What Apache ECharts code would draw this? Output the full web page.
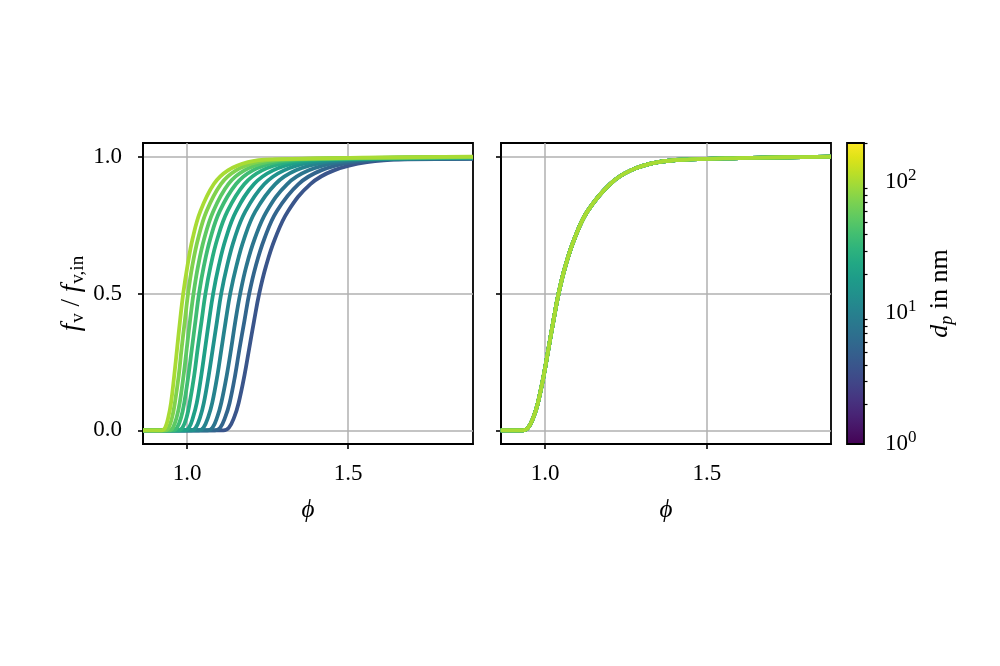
<!DOCTYPE html>
<html>
<head>
<meta charset="utf-8">
<script src="https://cdn.jsdelivr.net/npm/echarts@6/dist/echarts.min.js"></script>
<style>
  html, body { margin: 0; padding: 0; background: #ffffff; }
  #chart { width: 1000px; height: 666px; }
</style>
</head>
<body>
<div id="chart"></div>
<script>
// ---------------- data ----------------
// particle diameters (nm), one per curve; index 0 = largest (leftmost, yellow-green)
const DP = [100, 72.5, 52.5, 38.1, 27.6, 20, 14.5, 10.5, 7.62, 5.52, 4];

// normalised fraction levels at which phi was read for every curve
const F_LEVELS = [0, 0.01, 0.05, 0.1, 0.2, 0.3, 0.4, 0.5, 0.6, 0.7, 0.8, 0.9, 0.95, 0.98, 0.99];

// left panel: phi of each curve at the F_LEVELS above
const LEFT_PHI = [
  [0.921, 0.932, 0.942, 0.950, 0.960, 0.969, 0.978, 0.988, 1.001, 1.017, 1.041, 1.083, 1.127, 1.189, 1.261],
  [0.932, 0.943, 0.954, 0.962, 0.974, 0.983, 0.993, 1.003, 1.016, 1.034, 1.060, 1.105, 1.152, 1.217, 1.294],
  [0.945, 0.956, 0.968, 0.977, 0.989, 0.999, 1.009, 1.020, 1.034, 1.053, 1.081, 1.128, 1.178, 1.248, 1.329],
  [0.957, 0.969, 0.982, 0.991, 1.004, 1.015, 1.026, 1.037, 1.052, 1.072, 1.101, 1.152, 1.204, 1.278, 1.365],
  [0.973, 0.986, 0.999, 1.008, 1.022, 1.033, 1.045, 1.057, 1.073, 1.094, 1.125, 1.178, 1.233, 1.312, 1.403],
  [0.992, 1.006, 1.019, 1.030, 1.044, 1.056, 1.068, 1.081, 1.098, 1.120, 1.152, 1.208, 1.267, 1.349, 1.445],
  [1.013, 1.027, 1.041, 1.052, 1.067, 1.080, 1.093, 1.106, 1.124, 1.147, 1.181, 1.240, 1.301, 1.387, 1.488],
  [1.036, 1.051, 1.066, 1.078, 1.094, 1.107, 1.120, 1.134, 1.153, 1.177, 1.212, 1.274, 1.338, 1.429, 1.534],
  [1.063, 1.079, 1.094, 1.106, 1.123, 1.137, 1.150, 1.165, 1.184, 1.210, 1.247, 1.311, 1.378, 1.473, 1.584],
  [1.086, 1.103, 1.119, 1.132, 1.149, 1.163, 1.178, 1.193, 1.213, 1.240, 1.278, 1.346, 1.416, 1.515, 1.630],
  [1.113, 1.130, 1.147, 1.160, 1.178, 1.193, 1.208, 1.224, 1.245, 1.273, 1.313, 1.383, 1.456, 1.559, 1.679]
];
// left panel: value of each curve at the right edge
const LEFT_END_F = [1.0, 0.999, 0.999, 0.998, 0.998, 0.997, 0.996, 0.995, 0.994, 0.993, 0.992];

// right panel: all curves collapse onto one master curve
const RIGHT_PHI = [0.931, 0.948, 0.965, 0.978, 0.996, 1.011, 1.026, 1.042, 1.063, 1.091, 1.131, 1.201, 1.265, 1.350, 1.450];
const RIGHT_TAIL_PHI = [1.6, 1.75, 1.884];
const RIGHT_TAIL_F = [0.995, 0.998, 1.0];

const PHI_START = 0.863;
const LEFT_PHI_END = 1.888;

// axis ticks
const X_TICKS = [1.0, 1.5];
const Y_TICKS = [0, 0.5, 1.0];
const CB_MINOR = [2, 3, 4, 5, 6, 7, 8, 9, 20, 30, 40, 50, 60, 70, 80, 90, 200];

// ---------------- colormap (viridis) ----------------
const VIRIDIS = ['#440154','#471365','#482475','#463480','#414487','#3b528b','#355f8d','#2f6c8e',
  '#2a788e','#25848e','#21918c','#1e9c89','#22a884','#2fb47c','#44bf70','#5ec962','#7ad151',
  '#9bd93c','#bddf26','#dfe318','#fde725'];
function hex2rgb(h) { return [parseInt(h.substr(1,2),16), parseInt(h.substr(3,2),16), parseInt(h.substr(5,2),16)]; }
function viridis(t) {
  t = Math.max(0, Math.min(1, t));
  const n = VIRIDIS.length - 1;
  const k = Math.min(n - 1, Math.floor(t * n));
  const u = t * n - k;
  const a = hex2rgb(VIRIDIS[k]), b = hex2rgb(VIRIDIS[k + 1]);
  const c = a.map((v, i) => Math.round(v + (b[i] - v) * u));
  return 'rgb(' + c.join(',') + ')';
}
const CB_MIN = 1, CB_MAX = 200;
function dpColor(d) { return viridis(Math.log10(d / CB_MIN) / Math.log10(CB_MAX / CB_MIN)); }

// ---------------- build series ----------------
const FONT = '"Liberation Serif", "DejaVu Serif", serif';
const LW = 3.8;
const series = [];
for (let i = DP.length - 1; i >= 0; i--) {
  const pts = [[PHI_START, 0]];
  LEFT_PHI[i].forEach((p, k) => pts.push([p, F_LEVELS[k]]));
  pts.push([LEFT_PHI_END, LEFT_END_F[i]]);
  series.push({
    type: 'line', xAxisIndex: 0, yAxisIndex: 0, data: pts, showSymbol: false,
    smooth: 0.4, lineStyle: { width: LW, color: dpColor(DP[i]) }, z: 3
  });
}
for (let i = DP.length - 1; i >= 0; i--) {
  const pts = [[PHI_START, 0]];
  RIGHT_PHI.forEach((p, k) => pts.push([p, F_LEVELS[k]]));
  RIGHT_TAIL_PHI.forEach((p, k) => pts.push([p, RIGHT_TAIL_F[k]]));
  series.push({
    type: 'line', xAxisIndex: 1, yAxisIndex: 1, data: pts, showSymbol: false,
    smooth: 0.4, lineStyle: { width: LW, color: dpColor(DP[i]) }, z: 3
  });
}
const gradStops = VIRIDIS.map((c, k) => ({ offset: k / (VIRIDIS.length - 1), color: c }));
series.push({
  type: 'custom', xAxisIndex: 2, yAxisIndex: 2, data: [[0, CB_MIN]], z: 3, silent: true,
  renderItem: function (params, api) {
    const p0 = api.coord([0, CB_MAX]);
    const p1 = api.coord([1, CB_MIN]);
    return {
      type: 'rect',
      shape: { x: p0[0], y: p0[1], width: p1[0] - p0[0], height: p1[1] - p0[1] },
      style: { fill: new echarts.graphic.LinearGradient(0, 1, 0, 0, gradStops), stroke: '#000', lineWidth: 1.8 }
    };
  }
});

// ---------------- axes ----------------
const GRID_COLOR = '#b0b0b0';
const TICK_FS = 23;
function xAx(gridIndex, min, max) {
  return {
    type: 'value', gridIndex, min, max,
    name: 'ϕ', nameLocation: 'middle', nameGap: 54,
    nameTextStyle: { fontFamily: FONT, fontStyle: 'italic', fontSize: 25, color: '#000' },
    axisLine: { show: true, onZero: false, lineStyle: { color: '#000', width: 1.8 } },
    axisTick: { show: true, customValues: X_TICKS, length: 5, lineStyle: { color: '#000', width: 1.6 } },
    axisLabel: { show: true, customValues: X_TICKS, margin: 18, fontFamily: FONT, fontSize: TICK_FS, color: '#000',
      formatter: v => v.toFixed(1) },
    splitLine: { show: true, lineStyle: { color: GRID_COLOR, width: 1.5 } }
  };
}
function yAx(gridIndex, labels) {
  const ax = {
    type: 'value', gridIndex, min: -0.05, max: 1.05,
    axisLine: { show: true, onZero: false, lineStyle: { color: '#000', width: 1.8 } },
    axisTick: { show: true, customValues: Y_TICKS, length: 5, lineStyle: { color: '#000', width: 1.6 } },
    axisLabel: { show: labels, customValues: Y_TICKS, margin: 21, fontFamily: FONT, fontSize: TICK_FS, color: '#000',
      formatter: v => v.toFixed(1) },
    splitLine: { show: true, lineStyle: { color: GRID_COLOR, width: 1.5 } }
  };
  if (labels) {
    ax.name = '{i|f}{s|v}{n| / }{i|f}{s|v,in}';
    ax.nameLocation = 'middle';
    ax.nameRotate = 90;
    ax.nameGap = 55;
    ax.nameTextStyle = {
      fontFamily: FONT, color: '#000',
      rich: {
        i: { fontFamily: FONT, fontStyle: 'italic', fontSize: 27, lineHeight: 32 },
        n: { fontFamily: FONT, fontSize: 27, lineHeight: 32 },
        s: { fontFamily: FONT, fontSize: 19, lineHeight: 20, verticalAlign: 'bottom', padding: [10, 0, 0, 1] }
      }
    };
  }
  return ax;
}

const option = {
  animation: false,
  backgroundColor: '#ffffff',
  grid: [
    { left: 143, top: 143, width: 330, height: 301, show: true, borderColor: '#000', borderWidth: 1.8, backgroundColor: 'transparent', containLabel: false },
    { left: 501, top: 143, width: 330, height: 301, show: true, borderColor: '#000', borderWidth: 1.8, backgroundColor: 'transparent', containLabel: false },
    { left: 847, top: 143, width: 17, height: 301, show: false, containLabel: false }
  ],
  xAxis: [
    xAx(0, 0.863, 1.888),
    xAx(1, 0.864, 1.884),
    { type: 'value', gridIndex: 2, min: 0, max: 1, show: false }
  ],
  yAxis: [
    yAx(0, true),
    yAx(1, false),
    {
      type: 'log', logBase: 10, gridIndex: 2, min: CB_MIN, max: CB_MAX, position: 'right',
      name: '{i|d}{s|p}{n| in nm}', nameLocation: 'middle', nameRotate: 90, nameGap: 60,
      nameTextStyle: {
        fontFamily: FONT, color: '#000',
        rich: {
          i: { fontFamily: FONT, fontStyle: 'italic', fontSize: 26, lineHeight: 32 },
          n: { fontFamily: FONT, fontSize: 26, lineHeight: 32 },
          s: { fontFamily: FONT, fontStyle: 'italic', fontSize: 18, lineHeight: 20, verticalAlign: 'bottom', padding: [10, 0, 0, 0] }
        }
      },
      axisLine: { show: false },
      axisTick: { show: true, length: 6, lineStyle: { color: '#000', width: 1.6 } },
      axisLabel: {
        show: true, margin: 21, color: '#000', fontFamily: FONT,
        formatter: function (v) {
          const e = Math.round(Math.log10(v));
          if (Math.abs(Math.pow(10, e) - v) > 1e-6) return '';
          return '{b|10}{s|' + e + '}';
        },
        rich: {
          b: { fontFamily: FONT, fontSize: TICK_FS, lineHeight: 30 },
          s: { fontFamily: FONT, fontSize: 17, lineHeight: 30, verticalAlign: 'top', padding: [0, 0, 12, 0] }
        }
      },
      splitLine: { show: false }
    },
    {
      type: 'log', logBase: 10, gridIndex: 2, min: CB_MIN, max: CB_MAX, position: 'right',
      axisLine: { show: false },
      axisTick: { show: true, customValues: CB_MINOR, length: 3.5, lineStyle: { color: '#000', width: 1.2 } },
      axisLabel: { show: false },
      splitLine: { show: false }
    }
  ],
  series
};

const chart = echarts.init(document.getElementById('chart'), null, { renderer: 'canvas' });
chart.setOption(option);
</script>
</body>
</html>
